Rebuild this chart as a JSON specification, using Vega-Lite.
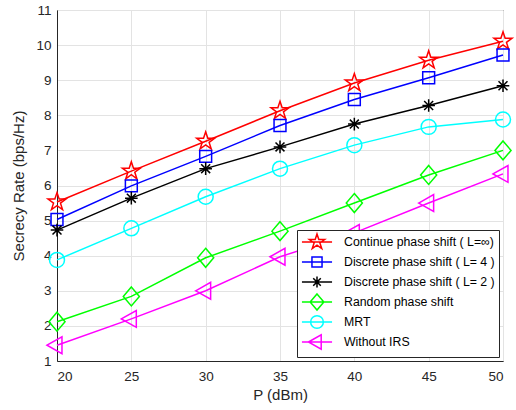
{
  "$schema": "https://vega.github.io/schema/vega-lite/v6.json",
  "width": 446,
  "height": 351,
  "autosize": {"type": "none"},
  "padding": {"left": 57, "top": 10, "right": 13, "bottom": 49},
  "background": "white",
  "config": {
    "font": "Liberation Sans",
    "view": {"stroke": "#262626", "strokeWidth": 1},
    "axis": {
      "labelFont": "Liberation Sans",
      "titleFont": "Liberation Sans",
      "labelFontSize": 13.5,
      "titleFontSize": 15,
      "labelColor": "#262626",
      "titleColor": "#262626",
      "titleFontWeight": "normal",
      "domainColor": "#262626",
      "domainWidth": 1,
      "gridColor": "#e3e3e3",
      "gridWidth": 1,
      "tickSize": 0
    },
    "legend": {
      "orient": "bottom-right",
      "offset": 4,
      "fillColor": "white",
      "strokeColor": "#262626",
      "padding": 4,
      "labelFont": "Liberation Sans",
      "labelFontSize": 12.3,
      "labelColor": "#000000",
      "labelLimit": 300,
      "symbolSize": 196,
      "symbolOffset": 8,
      "labelOffset": 19,
      "rowPadding": -9,
      "gridAlign": "all",
      "symbolOpacity": 1,
      "symbolStrokeWidth": 1.5
    }
  },
  "data": {
    "values": [
      {"P": 20, "rate": 5.53, "series": "Continue phase shift ( L=∞)"},
      {"P": 25, "rate": 6.41, "series": "Continue phase shift ( L=∞)"},
      {"P": 30, "rate": 7.26, "series": "Continue phase shift ( L=∞)"},
      {"P": 35, "rate": 8.13, "series": "Continue phase shift ( L=∞)"},
      {"P": 40, "rate": 8.92, "series": "Continue phase shift ( L=∞)"},
      {"P": 45, "rate": 9.57, "series": "Continue phase shift ( L=∞)"},
      {"P": 50, "rate": 10.11, "series": "Continue phase shift ( L=∞)"},
      {"P": 20, "rate": 5.03, "series": "Discrete phase shift ( L= 4 )"},
      {"P": 25, "rate": 5.99, "series": "Discrete phase shift ( L= 4 )"},
      {"P": 30, "rate": 6.83, "series": "Discrete phase shift ( L= 4 )"},
      {"P": 35, "rate": 7.71, "series": "Discrete phase shift ( L= 4 )"},
      {"P": 40, "rate": 8.45, "series": "Discrete phase shift ( L= 4 )"},
      {"P": 45, "rate": 9.07, "series": "Discrete phase shift ( L= 4 )"},
      {"P": 50, "rate": 9.72, "series": "Discrete phase shift ( L= 4 )"},
      {"P": 20, "rate": 4.73, "series": "Discrete phase shift ( L= 2 )"},
      {"P": 25, "rate": 5.64, "series": "Discrete phase shift ( L= 2 )"},
      {"P": 30, "rate": 6.48, "series": "Discrete phase shift ( L= 2 )"},
      {"P": 35, "rate": 7.1, "series": "Discrete phase shift ( L= 2 )"},
      {"P": 40, "rate": 7.75, "series": "Discrete phase shift ( L= 2 )"},
      {"P": 45, "rate": 8.28, "series": "Discrete phase shift ( L= 2 )"},
      {"P": 50, "rate": 8.84, "series": "Discrete phase shift ( L= 2 )"},
      {"P": 20, "rate": 2.12, "series": "Random phase shift"},
      {"P": 25, "rate": 2.84, "series": "Random phase shift"},
      {"P": 30, "rate": 3.94, "series": "Random phase shift"},
      {"P": 35, "rate": 4.7, "series": "Random phase shift"},
      {"P": 40, "rate": 5.5, "series": "Random phase shift"},
      {"P": 45, "rate": 6.3, "series": "Random phase shift"},
      {"P": 50, "rate": 7.0, "series": "Random phase shift"},
      {"P": 20, "rate": 3.88, "series": "MRT"},
      {"P": 25, "rate": 4.78, "series": "MRT"},
      {"P": 30, "rate": 5.68, "series": "MRT"},
      {"P": 35, "rate": 6.48, "series": "MRT"},
      {"P": 40, "rate": 7.15, "series": "MRT"},
      {"P": 45, "rate": 7.67, "series": "MRT"},
      {"P": 50, "rate": 7.88, "series": "MRT"},
      {"P": 20, "rate": 1.45, "series": "Without IRS"},
      {"P": 25, "rate": 2.2, "series": "Without IRS"},
      {"P": 30, "rate": 3.0, "series": "Without IRS"},
      {"P": 35, "rate": 3.97, "series": "Without IRS"},
      {"P": 40, "rate": 4.65, "series": "Without IRS"},
      {"P": 45, "rate": 5.5, "series": "Without IRS"},
      {"P": 50, "rate": 6.33, "series": "Without IRS"}
    ]
  },
  "encoding": {
    "x": {
      "field": "P",
      "type": "quantitative",
      "scale": {"domain": [20, 50], "nice": false, "zero": false},
      "axis": {"values": [20, 25, 30, 35, 40, 45, 50], "title": "P (dBm)", "labelPadding": 8, "titlePadding": 5}
    },
    "y": {
      "field": "rate",
      "type": "quantitative",
      "scale": {"domain": [1, 11], "nice": false, "zero": false},
      "axis": {"values": [1, 2, 3, 4, 5, 6, 7, 8, 9, 10, 11], "title": "Secrecy Rate (bps/Hz)", "labelPadding": 6, "titlePadding": 9}
    },
    "color": {
      "field": "series",
      "type": "nominal",
      "scale": {
        "domain": ["Continue phase shift ( L=∞)", "Discrete phase shift ( L= 4 )", "Discrete phase shift ( L= 2 )", "Random phase shift", "MRT", "Without IRS"],
        "range": ["#ff0000", "#0000ff", "#000000", "#00ff00", "#00ffff", "#ff00ff"]
      }
    }
  },
  "resolve": {
    "scale": {"shape": "independent"},
    "legend": {"color": "independent", "shape": "independent"}
  },
  "layer": [
    {
      "mark": {"type": "line", "strokeWidth": 1.5},
      "encoding": {
        "color": {"field": "series", "type": "nominal", "legend": null}
      }
    },
    {
      "mark": {"type": "point", "filled": false, "strokeWidth": 1.5, "size": 196, "opacity": 1},
      "encoding": {
        "color": {"field": "series", "type": "nominal", "legend": null},
        "shape": {
          "field": "series",
          "type": "nominal",
          "legend": null,
          "scale": {
            "domain": ["Continue phase shift ( L=∞)", "Discrete phase shift ( L= 4 )", "Discrete phase shift ( L= 2 )", "Random phase shift", "MRT", "Without IRS"],
            "range": [
              "M0,-1.35L0.306,-0.421L1.284,-0.417L0.495,0.161L0.794,1.092L0,0.52L-0.794,1.092L-0.495,0.161L-1.284,-0.417L-0.306,-0.421Z",
              "M-0.85,-0.85L0.85,-0.85L0.85,0.85L-0.85,0.85Z",
              "M-0.9,0L0.9,0M0,-0.9L0,0.9M-0.64,-0.64L0.64,0.64M-0.64,0.64L0.64,-0.64",
              "M0,-1.35L1.15,0L0,1.35L-1.15,0Z",
              "M1.07,0A1.07,1.07 0 1,1 -1.07,0A1.07,1.07 0 1,1 1.07,0Z",
              "M-1.43,0L0.71,-1.2L0.71,1.2Z"
            ]
          }
        }
      }
    },
    {
      "mark": {"type": "point", "filled": false, "strokeWidth": 1.5, "size": 196, "opacity": 0},
      "encoding": {
        "color": {"field": "series", "type": "nominal", "legend": {"title": null}},
        "shape": {
          "field": "series",
          "type": "nominal",
          "legend": {"title": null},
          "scale": {
            "domain": ["Continue phase shift ( L=∞)", "Discrete phase shift ( L= 4 )", "Discrete phase shift ( L= 2 )", "Random phase shift", "MRT", "Without IRS"],
            "range": [
              "M0,-1.15L0.259,-0.356L1.094,-0.355L0.418,0.136L0.676,0.93L0,0.44L-0.676,0.93L-0.418,0.136L-1.094,-0.355L-0.259,-0.356ZM-2.15,0L2.15,0",
              "M-0.72,-0.72L0.72,-0.72L0.72,0.72L-0.72,0.72ZM-2.15,0L2.15,0",
              "M-0.77,0L0.77,0M0,-0.77L0,0.77M-0.54,-0.54L0.54,0.54M-0.54,0.54L0.54,-0.54M-2.15,0L2.15,0",
              "M0,-1.15L0.98,0L0,1.15L-0.98,0ZM-2.15,0L2.15,0",
              "M0.91,0A0.91,0.91 0 1,1 -0.91,0A0.91,0.91 0 1,1 0.91,0ZM-2.15,0L2.15,0",
              "M-1.22,0L0.6,-1.02L0.6,1.02ZM-2.15,0L2.15,0"
            ]
          }
        }
      }
    }
  ]
}
